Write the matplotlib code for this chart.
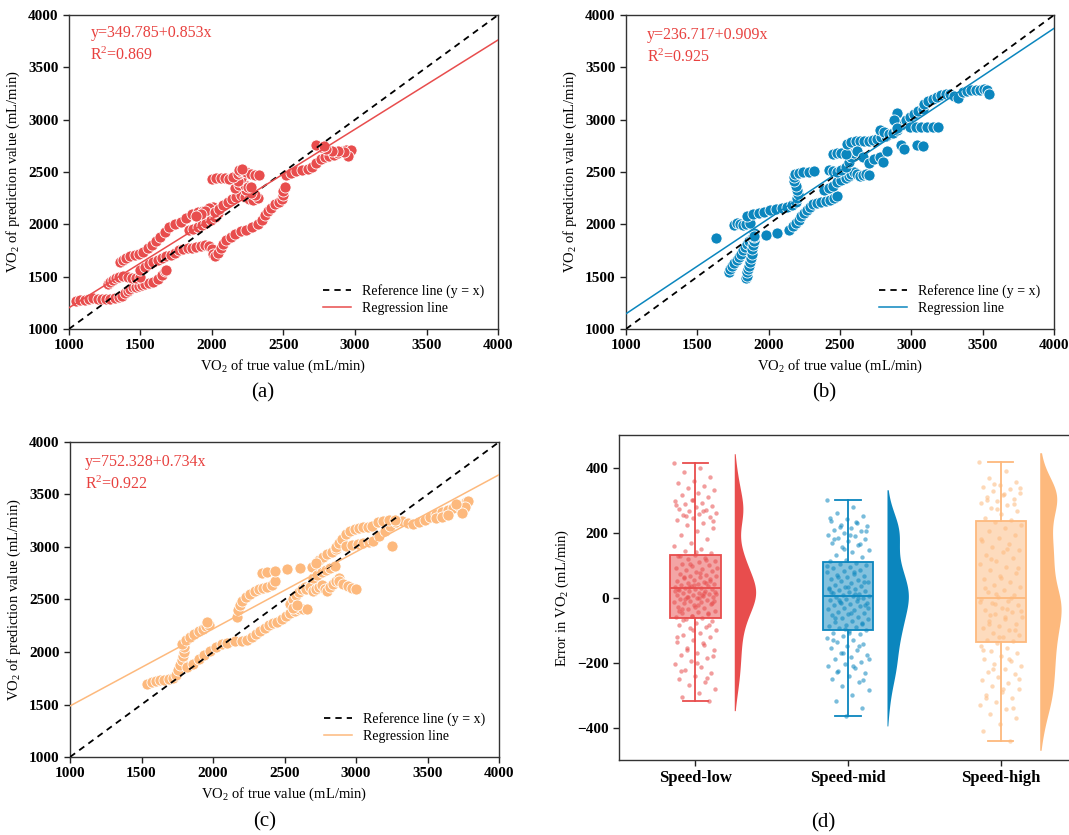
import numpy as np
import matplotlib
matplotlib.use("Agg")
import matplotlib.pyplot as plt
from matplotlib.colors import to_rgba

plt.rcParams.update({
    "font.family": "Liberation Serif",
    "mathtext.fontset": "custom",
    "mathtext.rm": "Liberation Serif",
    "mathtext.it": "Liberation Serif:italic",
    "mathtext.bf": "Liberation Serif:bold",
    "axes.linewidth": 1.0,
    "axes.edgecolor": "#333333",
})

RED = "#E84D4D"; BLUE = "#0B86BE"; ORANGE = "#FDB97D"
EQ_COLOR = "#E8413F"

# ---------------- panel (a): speed-low ----------------
a_true = [1050,1080,1110,1140,1170,1200,1230,1260,1290,1320,1350,
          1370,1390,1410,1430,1450,1470,1490,1510,1530,1560,1590,1620,1650,1670,1680,
          1270,1290,1310,1330,1350,1380,1410,1440,1470,1500,
          1500,1530,1560,1590,1620,1650,1680,1710,1740,1770,1800,1830,1860,1890,1920,1950,1980,
          2000,2010,2020,2040,2060,2080,2100,2130,2160,2200,2240,2280,2320,2350,2370,2390,2410,2440,2470,2490,2500,2500,2510,
          1360,1380,1400,1430,1460,1490,1520,1550,1580,1610,1640,1670,1700,1740,1780,1820,1860,1900,1940,1980,
          1840,1870,1900,1930,1960,1990,2020,2040,2030,2010,1980,1950,1920,1890,
          2020,2050,2080,2110,2140,2170,2200,2230,2260,2290,2320,2300,2270,2240,
          2160,2190,2210,2230,2250,2270,2200,2180,
          2000,2030,2060,2090,2120,2150,2180,2200,2220,2240,2270,2300,2330,2190,2210,
          2520,2550,2590,2630,2670,2700,2730,2760,2790,2820,2850,2880,2910,2940,2970,2950,2920,2880,2840,2800,2760,2730,2780]
a_pred = [1270,1275,1280,1290,1295,1290,1285,1285,1290,1300,1310,
          1320,1340,1360,1380,1400,1400,1410,1420,1430,1440,1450,1480,1520,1550,1560,
          1430,1450,1470,1490,1500,1510,1500,1490,1490,1500,
          1560,1590,1620,1640,1660,1680,1700,1710,1730,1750,1760,1770,1775,1780,1790,1800,1790,
          1760,1720,1700,1730,1770,1810,1850,1880,1910,1940,1950,1970,2000,2040,2090,2130,2160,2190,2210,2240,2280,2320,2360,
          1640,1660,1680,1700,1710,1720,1740,1770,1800,1840,1880,1930,1970,2000,2020,2060,2100,2120,2130,2140,
          1950,1960,1970,1990,2010,2040,2070,2110,2150,2170,2160,2130,2100,2080,
          2120,2150,2180,2210,2240,2260,2280,2260,2240,2230,2250,2280,2300,2330,
          2350,2380,2400,2380,2360,2360,2440,2410,
          2430,2440,2440,2440,2430,2450,2480,2500,2510,2500,2480,2470,2470,2520,2530,
          2470,2490,2510,2520,2530,2550,2590,2620,2640,2650,2660,2680,2700,2710,2710,2650,2690,2700,2700,2720,2740,2760,2750]
a_fit = (349.785, 0.853, 0.869)

# ---------------- panel (b): speed-mid ----------------
b_true = [1630,
          1720,1730,1745,1760,1775,1790,1805,1820,1835,1850,1865,1880,
          1840,1845,1850,1858,1865,1870,1875,1880,1885,1890,1895,1900,1895,
          1760,1780,1800,1820,1840,1870,
          1850,1890,1930,1970,2010,2050,2090,2130,2160,
          2190,2200,2205,2200,2190,2180,2175,2185,2210,2240,2280,2320,
          1900,1980,2060,2140,2170,2190,2210,2230,2250,2270,2290,2310,2340,2370,2400,2430,2460,2480,
          2390,2420,2450,2480,2510,2540,2560,2580,2600,2620,2640,2660,2680,2700,
          2420,2450,2480,2510,2540,2560,2580,2600,2620,
          2450,2480,2510,2540,
          2550,2580,2610,2640,2670,2700,2730,2760,2790,2820,
          2620,2660,2700,2740,2780,2800,2830,
          2780,2810,2840,2870,2900,2930,2960,2990,3020,3050,3080,
          2990,3030,3070,3110,3150,3190,
          2930,2950,3040,3080,2900,2880,2900,
          3090,3120,3150,3180,3210,3240,3270,3300,3330,3360,3390,3420,3450,3480,3510,3530,3545]
b_pred = [1870,
          1540,1570,1600,1630,1660,1690,1720,1750,1780,1810,1840,1870,
          1490,1510,1540,1570,1600,1640,1680,1720,1760,1800,1840,1880,1920,
          1990,2010,2000,1990,2000,2010,
          2080,2100,2110,2120,2140,2150,2160,2170,2180,
          2210,2250,2290,2330,2370,2410,2450,2480,2490,2500,2500,2510,
          1890,1900,1920,1945,1980,2010,2040,2080,2110,2140,2170,2190,2200,2210,2220,2230,2250,2270,
          2330,2350,2370,2400,2420,2440,2460,2480,2500,2480,2460,2470,2480,2470,
          2520,2510,2500,2520,2550,2600,2640,2680,2700,
          2670,2680,2680,2670,
          2770,2790,2800,2800,2800,2800,2810,2820,2830,2840,
          2700,2640,2590,2620,2640,2600,2700,
          2900,2880,2860,2870,2900,2950,3000,3030,3050,3080,3100,
          2930,2930,2930,2930,2930,2930,
          2760,2720,2760,2750,3060,3000,2920,
          3150,3180,3200,3220,3240,3250,3250,3230,3210,3260,3270,3280,3280,3285,3290,3280,3250]
b_fit = (236.717, 0.909, 0.925)

# ---------------- panel (c): speed-high ----------------
c_true = [1540,1570,1600,1630,1660,1690,1720,
          1740,1755,1770,1780,1790,1795,1800,
          1780,1810,1840,1870,1900,1930,1950,1970,1960,
          1820,1860,1900,1940,1980,2020,2060,2100,2150,2200,2240,2270,2300,2330,2360,2390,2420,2450,2480,2510,2540,2570,2600,2630,2660,
          2170,2175,2185,2200,2230,2260,2290,2320,2350,2380,2410,2430,
          2340,2380,2430,2520,2610,2690,
          2540,2560,2580,2600,2620,2640,2560,2590,
          2650,2680,2700,2720,2740,2760,2780,2800,2820,2840,2860,2880,2700,2730,2760,2790,2820,2850,2740,2770,2800,2830,2860,2720,
          2880,2910,2940,2970,3000,
          2860,2880,2900,2930,2960,2990,3020,3050,3080,3110,
          2930,2970,3010,3050,3090,
          3250,
          3120,3160,3200,3240,3280,3320,3360,3400,3440,3480,3520,3560,3600,3640,3680,3720,3750,3770,3780,3760,3740,3700,
          3150,3190,3230,3270,
          3560,3600,3640]
c_pred = [1700,1710,1720,1730,1735,1740,1750,
          1780,1830,1880,1920,1960,2000,2050,
          2080,2110,2140,2170,2200,2220,2250,2260,2290,
          1860,1890,1930,1970,2010,2050,2080,2090,2100,2100,2110,2140,2170,2200,2230,2260,2280,2290,2310,2340,2370,2390,2410,2410,2410,
          2330,2400,2450,2490,2520,2550,2580,2600,2610,2620,2640,2680,
          2750,2760,2770,2790,2800,2810,
          2460,2500,2540,2570,2600,2620,2420,2450,
          2600,2620,2580,2600,2620,2640,2600,2580,2620,2650,2680,2700,2700,2730,2760,2780,2800,2820,2880,2900,2930,2950,2980,2850,
          2680,2650,2630,2610,2600,
          3000,3040,3080,3120,3150,3170,3180,3190,3190,3200,
          3010,3020,3030,3040,3050,
          3010,
          3060,3100,3150,3200,3240,3250,3230,3220,3240,3260,3290,3310,3330,3350,3370,3390,3410,3430,3440,3380,3320,3410,
          3240,3250,3260,3260,
          3280,3290,3300]
c_fit = (752.328, 0.734, 0.922)

# ---------------- panel (d): prediction errors ----------------
groups = ["Speed-low", "Speed-mid", "Speed-high"]
low_err = [413,398,386,371,360,352,344,337,330,322,315,309,302,296,291,287,282,278,274,270,266,262,258,
           254,249,244,238,231,224,215,205,193,180,168,158,149,142,136,131,
           127,123,118,113,109,104,100,96,92,88,85,81,78,74,71,68,65,62,59,56,53,51,48,46,43,41,39,37,35,33,31,
           29,27,25,23,21,19,17,15,13,11,9,7,5,3,1,-1,-3,-6,-9,-12,-15,-18,-21,-24,-28,-32,-36,-40,-44,-48,
           -52,-56,-60,-63,
           -67,-72,-77,-83,-89,-95,-101,-108,-115,-122,-130,-138,-146,-154,-162,-170,-178,-186,-195,-204,
           -213,-222,-231,-240,-250,-260,-270,-281,-293,-305,-318,
           300,284,268,252,236,140,128,115,102,90,76,63,50,38,26,14,2,-10,-22,-34,-46,-58,
           20,8,-4,-16,-28,-40,44,32,12,-2,-70,-85,-100,-120,-140,-160,-180,-200,-225,-248]
mid_err = [302,280,262,250,242,236,230,224,219,214,209,204,199,194,189,184,179,174,168,162,155,148,140,132,124,117,112,
           108,104,99,95,90,86,82,78,74,70,66,62,58,55,51,47,44,40,37,33,30,27,24,21,18,15,12,9,6,
           4,1,-2,-5,-8,-11,-14,-17,-20,-23,-27,-31,-35,-39,-43,-47,-51,-55,-59,-63,-67,-71,-75,-79,-83,-87,-91,-95,-99,
           -103,-108,-113,-118,-124,-130,-136,-142,-148,-155,-162,-169,-176,-183,-190,-197,-204,-211,-218,-225,
           -233,-241,-250,-260,-272,-285,-300,-318,-340,-365,
           246,232,218,206,192,180,166,150,96,80,64,48,32,16,0,-16,-32,-48,-64,-80,-96,
           28,10,-6,-24,-110,-130,-150,-170,-190,-210,-230,-255]
high_err = [416,390,368,356,347,340,334,328,322,316,310,304,298,291,284,276,266,256,246,238,
            232,224,214,204,194,184,175,166,157,148,139,130,121,112,103,94,85,76,67,58,49,40,32,24,16,8,3,
            -3,-10,-17,-24,-31,-38,-45,-52,-59,-66,-73,-80,-87,-94,-101,-108,-115,-122,-129,-135,
            -141,-148,-156,-164,-172,-180,-188,-196,-204,-212,-220,-228,-236,-245,-254,-263,-272,-281,
            -290,-300,-310,-320,-332,-344,-357,-372,-390,-412,-440,
            350,336,318,302,288,272,180,150,120,90,60,30,0,-20,-40,-60,-80,-100,-120,
            -160,-190,-220,-250,-280,-310,-340,10,-15,-35,-55]
box_q1 = [-63, -100, -137]
box_med = [30, 5, 0]
box_q3 = [130, 110, 236]
box_lo = [-318, -365, -440]
box_hi = [413, 302, 416]


def style_ticks(ax, size=11):
    ax.tick_params(direction="out", length=4, width=1, top=False, right=False, colors="#222222")
    plt.setp(ax.get_xticklabels() + ax.get_yticklabels(), fontweight="bold", fontsize=size, color="black")


def scatter_panel(ax, xt, yp, color, fit, eq_pos):
    a, b, r2 = fit
    ax.scatter(xt, yp, s=64, c=color, edgecolors="white", linewidths=0.6, zorder=3)
    xs = np.array([1000.0, 4000.0])
    ax.plot(xs, xs, ls=(0, (3.5, 2.8)), color="black", lw=1.3, label="Reference line (y = x)", zorder=4)
    ax.plot(xs, a + b * xs, color=color, lw=1.1, label="Regression line", zorder=4)
    ax.set_xlim(1000, 4000); ax.set_ylim(1000, 4000)
    ax.set_xticks(np.arange(1000, 4001, 500)); ax.set_yticks(np.arange(1000, 4001, 500))
    ax.set_xlabel("VO$_2$ of true value (mL/min)", fontsize=10.5)
    ax.set_ylabel("VO$_2$ of prediction value (mL/min)", fontsize=10.5)
    ax.text(eq_pos[0], eq_pos[1], f"y={a:.3f}+{b:.3f}x", transform=ax.transAxes,
            color=EQ_COLOR, fontsize=11.5, va="center")
    ax.text(eq_pos[0], eq_pos[1] - 0.07, f"R$^2$={r2:.3f}", transform=ax.transAxes,
            color=EQ_COLOR, fontsize=11.5, va="center")
    ax.legend(loc="lower right", frameon=False, fontsize=10, handlelength=2.0,
              labelspacing=0.3, borderaxespad=0.6)
    style_ticks(ax)


fig = plt.figure(figsize=(10.69, 8.35), dpi=100)
ax_a = fig.add_axes([0.0645, 0.606, 0.4014, 0.376])
ax_b = fig.add_axes([0.5856, 0.606, 0.4004, 0.376])
ax_c = fig.add_axes([0.0655, 0.0934, 0.4014, 0.3773])
ax_d = fig.add_axes([0.579, 0.0898, 0.4286, 0.389])

scatter_panel(ax_a, a_true, a_pred, RED, a_fit, (0.05, 0.943))
scatter_panel(ax_b, b_true, b_pred, BLUE, b_fit, (0.048, 0.936))
scatter_panel(ax_c, c_true, c_pred, ORANGE, c_fit, (0.035, 0.935))

# ---- raincloud-style panel ----
colors = [RED, BLUE, ORANGE]
errs = [low_err, mid_err, high_err]
for i, (vals, col) in enumerate(zip(errs, colors)):
    v = np.asarray(vals, float)
    # box from the read-off statistics
    stats = [dict(med=box_med[i], q1=box_q1[i], q3=box_q3[i], whislo=box_lo[i], whishi=box_hi[i], fliers=[])]
    bp = ax_d.bxp(stats, positions=[i], widths=0.33, patch_artist=True, showfliers=False,
                  boxprops=dict(facecolor=to_rgba(col, 0.5), edgecolor=col, lw=1.3),
                  medianprops=dict(color=col, lw=1.3),
                  whiskerprops=dict(color=col, lw=1.3), capprops=dict(color=col, lw=1.3))
    for art in bp["boxes"]:
        art.set_zorder(2)
    for art in bp["medians"] + bp["whiskers"] + bp["caps"]:
        art.set_zorder(4)
    # jittered points (evenly spread offsets, not data)
    off = ((np.arange(len(v)) * 0.6180339) % 1.0 - 0.5) * 0.28
    ax_d.scatter(i + off, v, s=10, color=col, alpha=0.55, lw=0, zorder=3)
    # half violin from a gaussian kernel density of the values
    grid = np.linspace(v.min() - 30, v.max() + 30, 300)
    dens = np.exp(-0.5 * ((grid[:, None] - v[None, :]) / 45.0) ** 2).sum(axis=1)
    dens = dens / dens.max() * 0.14
    pos = i + 0.255
    ax_d.fill_betweenx(grid, pos, pos + dens, color=col, lw=0, zorder=2)

ax_d.set_xlim(-0.5, 2.5)
ax_d.set_ylim(-500, 500)
ax_d.set_xticks([0, 1, 2])
ax_d.set_xticklabels(groups)
ax_d.set_yticks(np.arange(-400, 401, 200))
ax_d.set_ylabel("Error in VO$_2$ (mL/min)", fontsize=10.5)
style_ticks(ax_d, size=11)
plt.setp(ax_d.get_xticklabels(), fontsize=12)

for x, y, lab in [(0.246, 0.529, "(a)"), (0.771, 0.529, "(b)"),
                  (0.248, 0.0156, "(c)"), (0.770, 0.0144, "(d)")]:
    fig.text(x, y, lab, ha="center", va="center", fontsize=15)

fig.savefig("out.png", dpi=100)
